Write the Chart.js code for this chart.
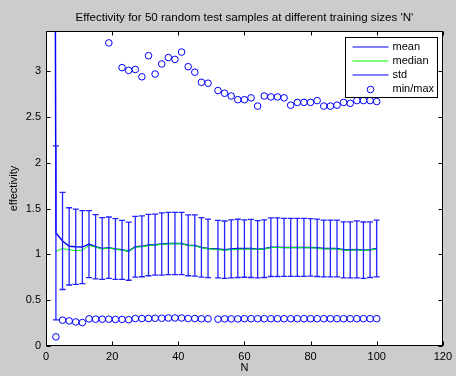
<!DOCTYPE html>
<html>
<head>
<meta charset="utf-8">
<script src="https://cdn.jsdelivr.net/npm/chart.js@4.4.0/dist/chart.umd.min.js"></script>
<style>
html,body{margin:0;padding:0;background:#cccccc;}
#wrap{width:456px;height:376px;}
</style>
</head>
<body>
<div id="wrap"><canvas id="chart" width="456" height="376"></canvas></div>
<script>
// training sizes N
const trainN = [1,3,5,7,9,11,13,15,17,19,21,23,25,27,29,31,33,35,37,39,41,43,45,47,49,
  52,54,56,58,60,62,64,66,68,70,72,74,76,78,80,82,84,86,88,90,92,94,96,98,100];

const meanVals = [30,1.235,1.147,1.088,1.083,1.080,1.112,1.084,1.064,1.074,1.060,1.050,1.035,1.084,1.088,1.102,1.107,1.113,1.120,1.120,1.120,1.100,1.097,1.077,1.066,
  1.058,1.052,1.060,1.066,1.064,1.065,1.057,1.063,1.079,1.079,1.077,1.077,1.077,1.077,1.077,1.072,1.064,1.064,1.064,1.050,1.050,1.055,1.046,1.052,1.064];

const medianVals = [null,1.035,1.064,1.050,1.042,1.045,1.098,1.080,1.060,1.070,1.058,1.048,1.035,1.080,1.084,1.098,1.104,1.110,1.116,1.117,1.117,1.097,1.094,1.073,1.063,
  1.053,1.047,1.052,1.056,1.058,1.060,1.054,1.060,1.075,1.076,1.075,1.075,1.074,1.074,1.074,1.069,1.060,1.061,1.060,1.047,1.046,1.051,1.043,1.049,1.060];

const stdVals = [null,0.95,0.53,0.422,0.411,0.399,0.366,0.351,0.337,0.335,0.332,0.322,0.317,0.332,0.332,0.335,0.334,0.34,0.34,0.34,0.34,0.333,0.335,0.324,0.32,
  0.313,0.313,0.317,0.318,0.313,0.317,0.313,0.315,0.32,0.32,0.317,0.317,0.317,0.317,0.315,0.313,0.31,0.31,0.31,0.306,0.306,0.312,0.308,0.304,0.31];

const minVals = [null,0.10,0.282,0.274,0.263,0.256,0.296,0.293,0.293,0.293,0.290,0.290,0.287,0.300,0.300,0.300,0.303,0.303,0.306,0.306,0.306,0.300,0.300,0.297,0.297,
  0.293,0.296,0.296,0.296,0.298,0.298,0.298,0.298,0.298,0.298,0.298,0.298,0.298,0.298,0.298,0.298,0.298,0.298,0.298,0.298,0.298,0.298,0.298,0.298,0.298];

// max values above the visible range are left out (null)
const maxVals = [null,null,null,null,null,null,null,null,null,3.31,null,3.04,3.01,3.02,2.94,3.17,2.97,3.08,3.15,3.13,3.21,3.05,2.99,2.88,2.87,
  2.79,2.76,2.73,2.69,2.69,2.71,2.62,2.73,2.72,2.72,2.71,2.63,2.66,2.66,2.66,2.68,2.62,2.62,2.63,2.66,2.65,2.68,2.68,2.68,2.67];

const xTicks = [0,20,40,60,80,100,120];
const yTicks = [0,0.5,1,1.5,2,2.5,3];
const yMax = 3.44;
const titleText = "Effectivity for 50 random test samples at different training sizes 'N'";

const BLUE = '#0000ff';
const GREEN = '#00ff00';
const FONT = '"Liberation Sans", Arial, Helvetica, sans-serif';

const pts = vals => trainN.map((n,i)=>({x:n, y:vals[i]})).filter(p=>p.y!==null);

// white plot area, box, inward ticks, title, legend
const framePlugin = {
  id:'frame',
  beforeDraw(chart){
    const {ctx, chartArea:a} = chart;
    ctx.save();
    ctx.fillStyle = '#fff';
    ctx.fillRect(a.left, a.top, a.right-a.left, a.bottom-a.top);
    ctx.fillStyle = '#000';
    ctx.font = '11.6px '+FONT;
    ctx.textAlign = 'center';
    ctx.textBaseline = 'middle';
    ctx.fillText(titleText, (a.left+a.right)/2, 18);
    ctx.restore();
  },
  afterDraw(chart){
    const {ctx, chartArea:a, scales:{x,y}} = chart;
    ctx.save();
    ctx.strokeStyle = '#000';
    ctx.lineWidth = 1;
    const L = Math.round(a.left)+0.5, R = Math.round(a.right)-0.5;
    const T = Math.round(a.top)+0.5, B = Math.round(a.bottom)-0.5;
    ctx.strokeRect(L, T, R-L, B-T);
    ctx.beginPath();
    xTicks.forEach(v=>{
      const px = Math.round(x.getPixelForValue(v))+0.5;
      ctx.moveTo(px,B); ctx.lineTo(px,B-4);
      ctx.moveTo(px,T); ctx.lineTo(px,T+4);
    });
    yTicks.forEach(v=>{
      const py = Math.round(y.getPixelForValue(v))+0.5;
      ctx.moveTo(L,py); ctx.lineTo(L+4,py);
      ctx.moveTo(R,py); ctx.lineTo(R-4,py);
    });
    ctx.stroke();

    // legend box
    const bx = Math.round(R-98)+0.5, by = Math.round(T+5)+0.5, bw = 92, bh = 60;
    ctx.fillStyle = '#fff';
    ctx.fillRect(bx, by, bw, bh);
    ctx.strokeStyle = '#000';
    ctx.strokeRect(bx, by, bw, bh);
    const rows = [
      {t:'mean', c:BLUE, kind:'line'},
      {t:'median', c:GREEN, kind:'line'},
      {t:'std', c:BLUE, kind:'line'},
      {t:'min/max', c:BLUE, kind:'circle'}
    ];
    ctx.font = '11px '+FONT;
    ctx.textBaseline = 'middle';
    ctx.textAlign = 'left';
    rows.forEach((r,i)=>{
      const ry = Math.round(by+9+i*14.3);
      ctx.strokeStyle = r.c;
      ctx.lineWidth = 1.2;
      ctx.beginPath();
      if (r.kind==='line'){ ctx.moveTo(bx+7,ry); ctx.lineTo(bx+43,ry); }
      else { ctx.lineWidth = 1; ctx.arc(bx+25,ry+0.5,3.3,0,Math.PI*2); }
      ctx.stroke();
      ctx.fillStyle = '#000';
      ctx.fillText(r.t, bx+47, ry);
    });
    ctx.restore();
  }
};

// std error bars
const errorBarPlugin = {
  id:'errbars',
  afterDatasetsDraw(chart){
    const {ctx, chartArea:a, scales:{x,y}} = chart;
    ctx.save();
    ctx.beginPath();
    ctx.rect(a.left, a.top, a.right-a.left, a.bottom-a.top);
    ctx.clip();
    ctx.strokeStyle = '#2222ff';
    ctx.lineWidth = 1.3;
    ctx.beginPath();
    trainN.forEach((n,i)=>{
      if (stdVals[i]===null) return;
      const px = x.getPixelForValue(n);
      const lo = y.getPixelForValue(meanVals[i]-stdVals[i]);
      const hi = y.getPixelForValue(meanVals[i]+stdVals[i]);
      ctx.moveTo(px,lo); ctx.lineTo(px,hi);
      ctx.moveTo(px-3,lo); ctx.lineTo(px+3,lo);
      ctx.moveTo(px-3,hi); ctx.lineTo(px+3,hi);
    });
    ctx.stroke();
    ctx.restore();
  }
};

Chart.defaults.font.family = FONT;
Chart.defaults.font.size = 11;
Chart.defaults.color = '#000';

new Chart(document.getElementById('chart'), {
  type:'scatter',
  data:{
    datasets:[
      {label:'mean', data:pts(meanVals), showLine:true, borderColor:BLUE, borderWidth:1.5, pointRadius:0, order:3},
      {label:'median', data:pts(medianVals), showLine:true, borderColor:GREEN, borderWidth:1, pointRadius:0, order:2},
      {label:'min', data:pts(minVals), showLine:false, pointRadius:3.3, pointBorderWidth:1, pointBorderColor:BLUE, pointBackgroundColor:'rgba(0,0,0,0)', order:1},
      {label:'max', data:pts(maxVals), showLine:false, pointRadius:3.3, pointBorderWidth:1, pointBorderColor:BLUE, pointBackgroundColor:'rgba(0,0,0,0)', order:0}
    ]
  },
  options:{
    responsive:false,
    animation:false,
    devicePixelRatio:1,
    layout:{padding:{left:0,right:10,top:31,bottom:0}},
    plugins:{
      legend:{display:false},
      tooltip:{enabled:false},
      title:{display:false}
    },
    scales:{
      x:{type:'linear', min:0, max:120,
        afterBuildTicks:s=>{ s.ticks = xTicks.map(v=>({value:v})); },
        ticks:{padding:4, maxRotation:0, callback:v=>String(v)},
        grid:{display:false, drawTicks:false}, border:{display:false},
        title:{display:true, text:'N', padding:{top:0,bottom:1}},
        afterFit:s=>{ s.height = 30; }},
      y:{type:'linear', min:0, max:yMax,
        afterBuildTicks:s=>{ s.ticks = yTicks.map(v=>({value:v})); },
        ticks:{padding:5, callback:v=>String(v)},
        grid:{display:false, drawTicks:false}, border:{display:false},
        title:{display:true, text:'effectivity', padding:{top:7,bottom:0}},
        afterFit:s=>{ s.width = 46; }}
    }
  },
  plugins:[framePlugin, errorBarPlugin]
});
</script>
</body>
</html>
